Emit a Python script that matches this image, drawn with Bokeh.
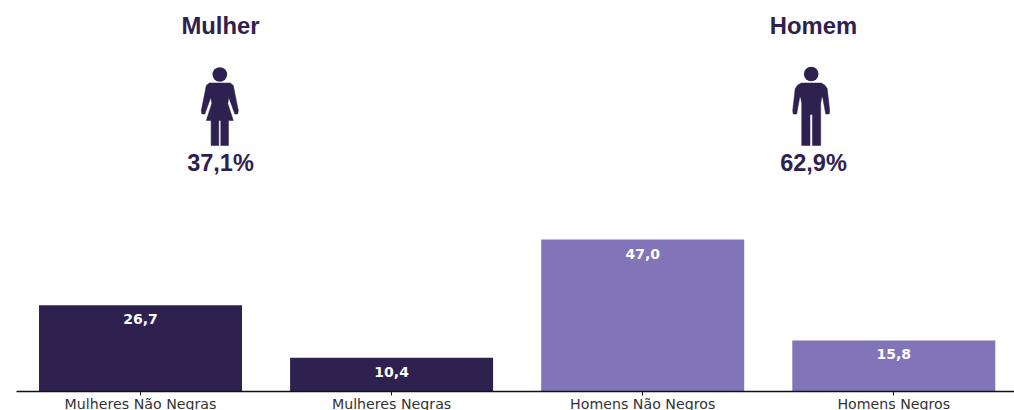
from bokeh.plotting import figure
from bokeh.models import Range1d, FixedTicker
from bokeh.core.properties import value
from bokeh.embed import file_html
from bokeh.resources import INLINE

categories = ["Mulheres Não Negras", "Mulheres Negras", "Homens Não Negros", "Homens Negros"]
values = [26.7, 10.4, 47.0, 15.8]
value_labels = ["26,7", "10,4", "47,0", "15,8"]
group_titles = ["Mulher", "Homem"]
group_shares = ["37,1%", "62,9%"]

DARK = "#2e2150"
LIGHT = "#8174b9"
bar_colors = [DARK, DARK, LIGHT, LIGHT]

STEP = 251.1
PX_Y = 3.234
F_L, F_R, F_B, F_T = 16, 1014, 391, 0
def X(px): return (px - 140) / STEP
def Y(py): return (F_B - py) / PX_Y

p = figure(width=1014, height=410, frame_width=F_R - F_L, frame_height=F_B - F_T,
           output_backend="svg", toolbar_location=None,
           x_range=Range1d(X(F_L), X(F_R)), y_range=Range1d(0, Y(F_T)),
           min_border_left=16, min_border_right=0, min_border_top=0, min_border_bottom=0,
           outline_line_color=None)
p.background_fill_color = "white"
p.grid.visible = False
p.yaxis.visible = False

idx = list(range(len(categories)))
p.vbar(x=idx, top=values, bottom=0, width=203 / STEP, color=bar_colors, line_color=None)
p.text(x=idx, y=values, text=value_labels, text_color="white", y_offset=14,
       text_font=value("DejaVu Sans"), text_font_style="bold", text_font_size="14px",
       text_align="center", text_baseline="middle")

ax = p.xaxis[0]
ax.ticker = FixedTicker(ticks=idx)
ax.major_label_overrides = dict(zip(idx, categories))
ax.major_label_text_font = "DejaVu Sans"
ax.major_label_text_font_size = "14.2px"
ax.major_label_text_color = "#333333"
ax.major_label_standoff = 0
ax.major_tick_out = 4
ax.major_tick_in = 0
ax.minor_tick_line_color = None
ax.axis_line_color = "#111111"
ax.major_tick_line_color = "#111111"
ax.axis_line_width = 1.3

woman = [(-10.5,82.5),(10.5,82.5),(13.5,85),(18.5,110),(18,113.5),(15,113.5),(9,97),(8,103),(13.5,120),(8.7,120),(8.7,145),
         (1,145),(1,120),(-1,120),(-1,145),(-8.7,145),(-8.7,120),(-13.5,120),(-8,103),(-9,97),(-15,113.5),(-18,113.5),(-18.5,110),(-13.5,85)]
man = [(-10,82.5),(10,82.5),(13.5,84.5),(16,88),(18.5,110),(18,113.5),(14.5,113.5),(11.5,97),(10.5,97),(9.5,103),(9.5,145),
       (1.2,145),(1.2,114),(-1.2,114),(-1.2,145),(-9.5,145),(-9.5,103),(-10.5,97),(-11.5,97),(-14.5,113.5),(-18,113.5),(-18.5,110),(-16,88),(-13.5,84.5)]

for cx, shape, title, share, tx, sx, head_y in [
        (219.3, woman, group_titles[0], group_shares[0], 220, 220, 74),
        (810.7, man, group_titles[1], group_shares[1], 813, 813, 73.5)]:
    p.patch([X(cx + a) for a, _ in shape], [Y(b) for _, b in shape], color=DARK, line_color=DARK, line_width=0.5, line_join="round")
    p.scatter([X(cx)], [Y(head_y)], size=14.6, marker="circle", color=DARK, line_color=None)
    p.text([X(tx)], [Y(25)], text=[title], text_color=DARK, text_font=value("Liberation Sans"),
           text_font_style="bold", text_font_size="23.8px", text_align="center", text_baseline="middle")
    p.text([X(sx)], [Y(162)], text=[share], text_color=DARK, text_font=value("Liberation Sans"),
           text_font_style="bold", text_font_size="23.5px", text_align="center", text_baseline="middle")

open("out.html", "w").write(file_html(p, INLINE))
